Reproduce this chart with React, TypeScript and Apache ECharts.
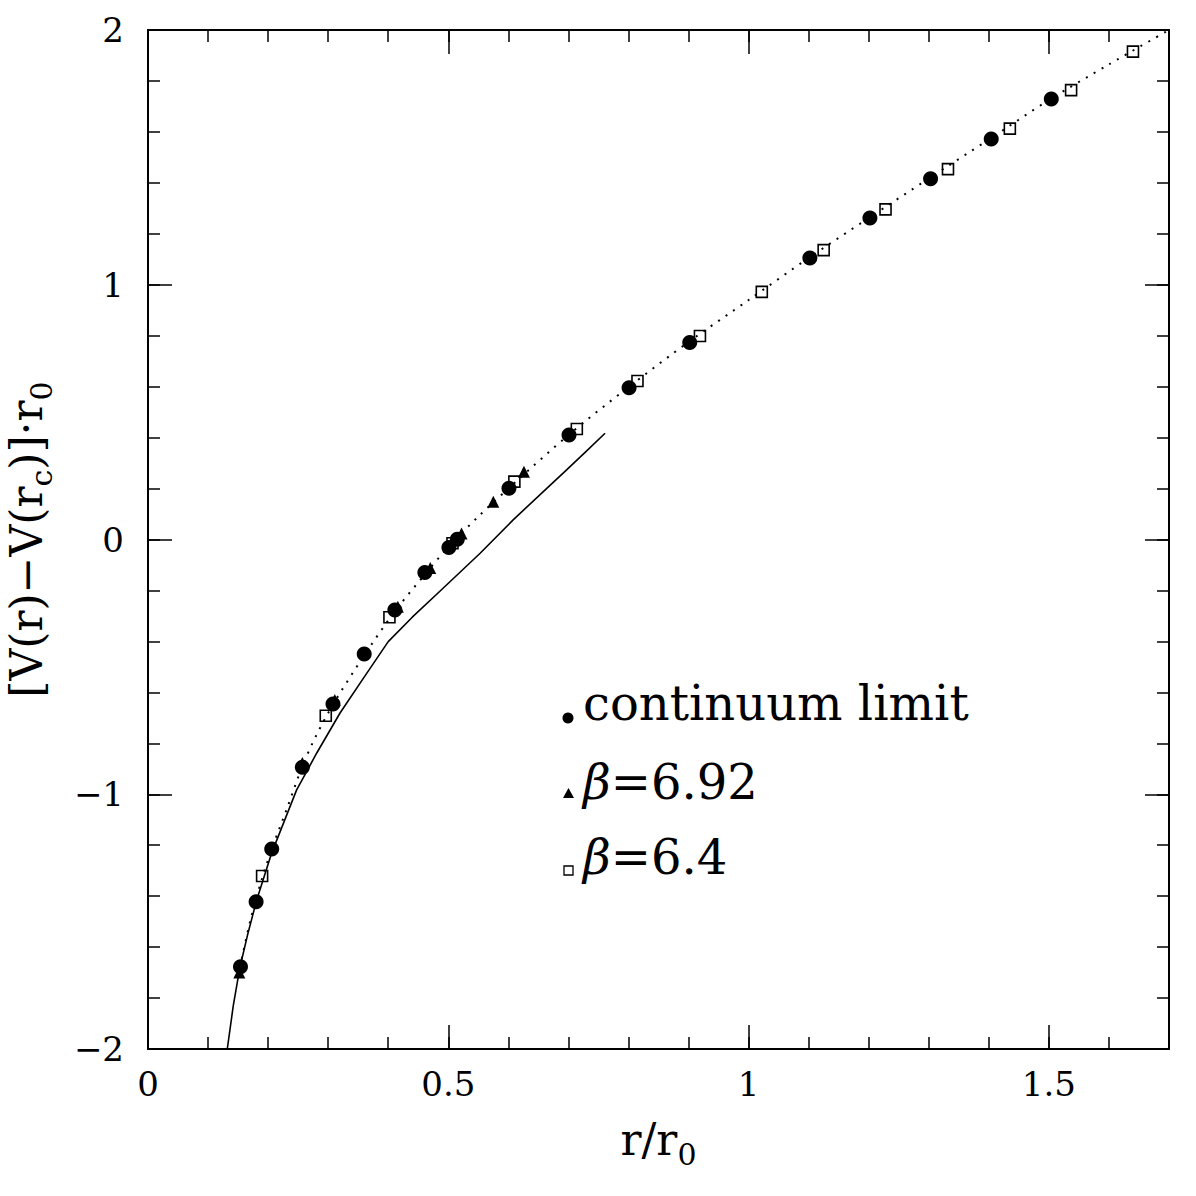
import React, { useEffect, useRef } from 'react';
import * as echarts from 'echarts';

// ---- data ----
const continuumX = [0.154, 0.18, 0.206, 0.257, 0.308, 0.36, 0.411, 0.461, 0.501, 0.515, 0.601, 0.701, 0.801, 0.902, 1.102, 1.202, 1.303, 1.404, 1.504];
const continuumY = [-1.677, -1.422, -1.215, -0.894, -0.646, -0.449, -0.277, -0.13, -0.031, 0.001, 0.201, 0.41, 0.596, 0.773, 1.105, 1.262, 1.416, 1.572, 1.729];

const beta692X = [0.152, 0.257, 0.311, 0.416, 0.47, 0.522, 0.575, 0.626];
const beta692Y = [-1.7, -0.877, -0.63, -0.264, -0.112, 0.024, 0.148, 0.266];

const beta64X = [0.19, 0.296, 0.402, 0.507, 0.61, 0.714, 0.815, 0.919, 1.022, 1.125, 1.228, 1.332, 1.435, 1.537, 1.64];
const beta64Y = [-1.321, -0.692, -0.305, -0.015, 0.227, 0.434, 0.622, 0.799, 0.972, 1.136, 1.296, 1.454, 1.613, 1.764, 1.915];

const solidX = [0.132, 0.142, 0.153, 0.166, 0.181, 0.206, 0.2475, 0.281, 0.32, 0.3585, 0.4, 0.44, 0.486, 0.553, 0.608, 0.664, 0.697, 0.73, 0.761];
const solidY = [-2.0, -1.83, -1.68, -1.55, -1.415, -1.23, -0.983, -0.838, -0.68, -0.545, -0.401, -0.305, -0.203, -0.054, 0.077, 0.201, 0.273, 0.347, 0.417];

const dottedX = [0.153, 0.17, 0.19, 0.21, 0.23, 0.257, 0.28, 0.31, 0.36, 0.41, 0.46, 0.5, 0.55, 0.6, 0.7, 0.8, 0.9, 1.0, 1.1, 1.2, 1.3, 1.4, 1.5, 1.6, 1.7];
const dottedY = [-1.68, -1.5, -1.33, -1.19, -1.065, -0.89, -0.77, -0.64, -0.455, -0.285, -0.14, -0.03, 0.09, 0.2, 0.41, 0.598, 0.775, 0.94, 1.105, 1.262, 1.417, 1.57, 1.725, 1.865, 2.0];

const xMajorTicks = [0, 0.5, 1, 1.5];
const xTickLabels = ['0', '0.5', '1', '1.5'];
const yMajorTicks = [-2, -1, 0, 1, 2];
const yTickLabels = ['\u22122', '\u22121', '0', '1', '2'];

const legendLabels = ['continuum limit', '6.92', '6.4'];

const FONT = 'DejaVu Serif';

const zip = (xs: number[], ys: number[]) => xs.map((x, i) => [x, ys[i]]);
const labelFor = (v: number, ticks: number[], labels: string[]) => {
  const i = ticks.findIndex((t) => Math.abs(t - v) < 1e-6);
  return i >= 0 ? labels[i] : '';
};

const lineStyle = { color: '#000', width: 2 };
const tickStyle = { color: '#000', width: 1.5 };

const nameRich = {
  m: { fontFamily: FONT, fontSize: 44, lineHeight: 60, verticalAlign: 'middle', color: '#000' },
  s: { fontFamily: FONT, fontSize: 30, lineHeight: 30, verticalAlign: 'bottom', color: '#000' },
};

function makeX(position: 'bottom' | 'top', major: boolean): any {
  return {
    type: 'value',
    position,
    min: 0,
    max: 1.7,
    interval: major ? 0.5 : 0.1,
    axisLine: { show: true, onZero: false, lineStyle },
    axisTick: { show: true, inside: true, length: major ? 24 : 12, lineStyle: tickStyle },
    splitLine: { show: false },
    axisLabel:
      major && position === 'bottom'
        ? {
            show: true,
            margin: 18,
            fontFamily: FONT,
            fontSize: 34,
            color: '#000',
            formatter: (v: number) => labelFor(v, xMajorTicks, xTickLabels),
          }
        : { show: false },
    ...(major && position === 'bottom'
      ? {
          name: '{m|r/r}{s|0}',
          nameLocation: 'middle',
          nameGap: 60,
          nameTextStyle: { rich: nameRich },
        }
      : {}),
  };
}

function makeY(position: 'left' | 'right', major: boolean): any {
  return {
    type: 'value',
    position,
    min: -2,
    max: 2,
    interval: major ? 1 : 0.2,
    axisLine: { show: true, onZero: false, lineStyle },
    axisTick: { show: true, inside: true, length: major ? 24 : 12, lineStyle: tickStyle },
    splitLine: { show: false },
    axisLabel:
      major && position === 'left'
        ? {
            show: true,
            margin: 24,
            fontFamily: FONT,
            fontSize: 34,
            color: '#000',
            formatter: (v: number) => labelFor(v, yMajorTicks, yTickLabels),
          }
        : { show: false },
    ...(major && position === 'left'
      ? {
          name: '{m|[V(r)\u2212V(r}{s|c}{m|)]\u00b7r}{s|0}',
          nameLocation: 'middle',
          nameGap: 92,
          nameTextStyle: { rich: nameRich },
        }
      : {}),
  };
}

export default function App() {
  const ref = useRef<HTMLDivElement>(null);
  useEffect(() => {
    if (!ref.current) return;
    const chart = echarts.init(ref.current, null, { renderer: 'svg' });
    const legendFont = `48px "${FONT}"`;
    const betaRich = {
      b: { fontFamily: FONT, fontSize: 48, fontStyle: 'italic', fill: '#000' },
      n: { fontFamily: FONT, fontSize: 48, fill: '#000' },
    };
    const option: any = {
      animation: false,
      backgroundColor: '#fff',
      grid: { left: 148, right: 27, top: 30, bottom: 147, containLabel: false, outerBoundsMode: 'none' },
      xAxis: [makeX('bottom', true), makeX('bottom', false), makeX('top', true), makeX('top', false)],
      yAxis: [makeY('left', true), makeY('left', false), makeY('right', true), makeY('right', false)],
      series: [
        {
          type: 'line',
          data: zip(solidX, solidY),
          showSymbol: false,
          lineStyle: { color: '#000', width: 1.6 },
          z: 2,
        },
        {
          type: 'line',
          data: zip(dottedX, dottedY),
          showSymbol: false,
          smooth: 0.3,
          lineStyle: { color: '#000', width: 2, type: [2, 7] },
          z: 2,
        },
        {
          type: 'scatter',
          data: zip(beta64X, beta64Y),
          symbol: 'rect',
          symbolSize: 11,
          itemStyle: { color: 'rgba(0,0,0,0)', borderColor: '#000', borderWidth: 1.6, opacity: 1 },
          z: 3,
        },
        {
          type: 'scatter',
          data: zip(beta692X, beta692Y),
          symbol: 'triangle',
          symbolSize: 12,
          itemStyle: { color: '#000', opacity: 1 },
          z: 4,
        },
        {
          type: 'scatter',
          data: zip(continuumX, continuumY),
          symbol: 'circle',
          symbolSize: 15,
          itemStyle: { color: '#000', opacity: 1 },
          z: 5,
        },
      ],
      graphic: [
        { type: 'circle', shape: { cx: 568, cy: 718, r: 5.5 }, style: { fill: '#000' } },
        { type: 'polygon', shape: { points: [[563, 798], [574, 798], [568.5, 788]] }, style: { fill: '#000' } },
        { type: 'rect', shape: { x: 564, y: 866, width: 9, height: 9 }, style: { fill: 'none', stroke: '#000', lineWidth: 1.3 } },
        {
          type: 'text',
          x: 583,
          y: 703,
          style: { text: legendLabels[0], font: legendFont, fill: '#000', align: 'left', verticalAlign: 'middle' },
        },
        {
          type: 'text',
          x: 583,
          y: 782,
          style: {
            text: `{b|\u03b2}{n|=${legendLabels[1]}}`,
            fill: '#000',
            align: 'left',
            verticalAlign: 'middle',
            rich: betaRich,
          },
        },
        {
          type: 'text',
          x: 583,
          y: 857,
          style: {
            text: `{b|\u03b2}{n|=${legendLabels[2]}}`,
            fill: '#000',
            align: 'left',
            verticalAlign: 'middle',
            rich: betaRich,
          },
        },
      ],
    };
    chart.setOption(option);
    return () => chart.dispose();
  }, []);
  return (
    <div
      ref={ref}
      style={{ position: 'fixed', left: 0, top: 0, width: 1196, height: 1196, background: '#fff' }}
    />
  );
}
